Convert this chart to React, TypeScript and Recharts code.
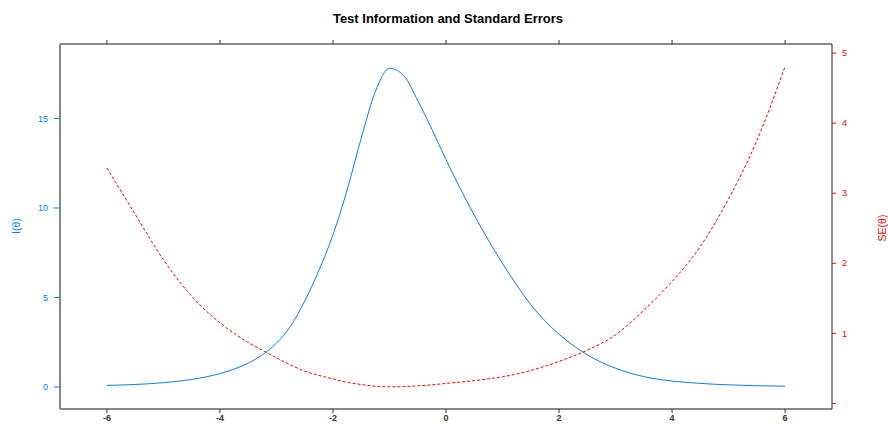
import { Line, LineChart, XAxis, YAxis } from "recharts";

// theta grid (denser around the peak)
const THETA = [
  -6, -5.5, -5, -4.5, -4, -3.75, -3.5, -3.25, -3, -2.75, -2.5, -2.25, -2, -1.75, -1.5, -1.25, -1,
  -0.75, -0.5, -0.25, 0, 0.25, 0.5, 0.75, 1, 1.25, 1.5, 1.75, 2, 2.5, 3, 3.5, 4, 4.5, 5, 5.5, 6,
];

// test information I(theta)
const INFO = [
  0.09, 0.14, 0.24, 0.42, 0.75, 1.0, 1.33, 1.8, 2.45, 3.4, 4.8, 6.5, 8.5, 11.0, 13.9, 16.5, 17.8,
  17.4, 16.0, 14.4, 12.7, 11.1, 9.6, 8.2, 6.9, 5.7, 4.6, 3.7, 2.95, 1.8, 1.05, 0.58, 0.33, 0.2,
  0.12, 0.07, 0.043,
];

// standard error SE(theta)
const SE = [
  3.36, 2.7, 2.05, 1.53, 1.15, 1.0, 0.87, 0.76, 0.65, 0.55, 0.46, 0.4, 0.35, 0.3, 0.27, 0.245,
  0.237, 0.24, 0.25, 0.265, 0.285, 0.305, 0.325, 0.35, 0.38, 0.42, 0.47, 0.53, 0.6, 0.76, 0.98,
  1.33, 1.74, 2.24, 2.92, 3.75, 4.81,
];

const X_TICKS = [-6, -4, -2, 0, 2, 4, 6];
const INFO_TICKS = [0, 5, 10, 15];
const SE_TICKS = [0, 1, 2, 3, 4, 5];

const BLUE = "#0080ff";
const RED = "#ff0000";
const FONT = "'Liberation Sans', Arial, sans-serif";

const data = THETA.map((theta, i) => ({ theta, info: INFO[i], se: SE[i] }));

const sideLabel = (cx: number, cy: number, color: string): React.CSSProperties => ({
  position: "absolute",
  left: cx - 30,
  width: 60,
  top: cy - 7,
  height: 14,
  lineHeight: "14px",
  textAlign: "center",
  transform: "rotate(-90deg)",
  color,
  fontSize: 10.5,
  whiteSpace: "nowrap",
});

export default function App() {
  return (
    <div style={{ position: "relative", width: 888, height: 424, fontFamily: FONT }}>
      <style>{"body { margin: 0; }"}</style>
      <div
        style={{
          position: "absolute",
          left: 4,
          width: 888,
          top: 11,
          textAlign: "center",
          fontWeight: "bold",
          fontSize: 13,
        }}
      >
        Test Information and Standard Errors
      </div>
      <div style={sideLabel(16, 226, BLUE)}>I(θ)</div>
      <div style={sideLabel(882, 228, RED)}>SE(θ)</div>
      <LineChart width={888} height={424} data={data} margin={{ top: 38, right: 26, bottom: 0, left: 12 }}>
        <XAxis
          xAxisId="bottom"
          dataKey="theta"
          type="number"
          domain={[-6.83, 6.83]}
          allowDataOverflow
          ticks={X_TICKS}
          height={15}
          tickSize={4}
          tickMargin={2}
          axisLine={{ stroke: "#888", strokeWidth: 2 }}
          tickLine={{ stroke: "#333" }}
          tick={{ fill: "#333", fontSize: 9, fontWeight: "bold" }}
        />
        <XAxis
          xAxisId="top"
          orientation="top"
          dataKey="theta"
          type="number"
          domain={[-6.83, 6.83]}
          allowDataOverflow
          ticks={X_TICKS}
          height={6}
          tickSize={4}
          tickFormatter={() => ""}
          axisLine={{ stroke: "#888", strokeWidth: 2 }}
          tickLine={{ stroke: "#333" }}
        />
        <YAxis
          yAxisId="info"
          type="number"
          domain={[-1.23, 19.16]}
          allowDataOverflow
          ticks={INFO_TICKS}
          width={48}
          tickSize={6}
          tickMargin={6}
          axisLine={{ stroke: "#888", strokeWidth: 2 }}
          tickLine={{ stroke: BLUE }}
          tick={{ fill: BLUE, fontSize: 9 }}
        />
        <YAxis
          yAxisId="se"
          orientation="right"
          type="number"
          domain={[-0.08, 5.13]}
          allowDataOverflow
          ticks={SE_TICKS}
          width={30}
          tickSize={4}
          tickMargin={6}
          tickFormatter={(v: number) => (v === 0 ? "" : String(v))}
          axisLine={{ stroke: "#222" }}
          tickLine={{ stroke: RED }}
          tick={{ fill: RED, fontSize: 9 }}
        />
        <Line
          xAxisId="bottom"
          yAxisId="info"
          type="monotone"
          dataKey="info"
          stroke={BLUE}
          strokeWidth={1}
          dot={false}
          isAnimationActive={false}
        />
        <Line
          xAxisId="bottom"
          yAxisId="se"
          type="monotone"
          dataKey="se"
          stroke={RED}
          strokeWidth={1}
          strokeDasharray="3 2"
          dot={false}
          isAnimationActive={false}
        />
      </LineChart>
    </div>
  );
}
